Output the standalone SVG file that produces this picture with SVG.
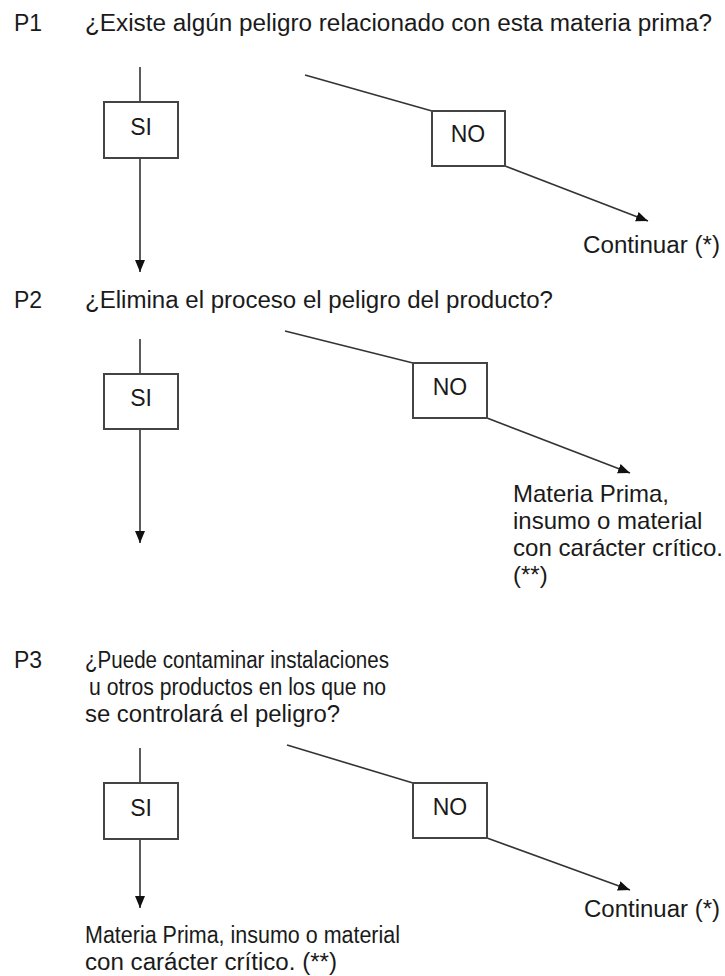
<svg xmlns="http://www.w3.org/2000/svg" width="725" height="976" viewBox="0 0 725 976">
<defs>
<style>
text{font-family:"Liberation Sans",Arial,sans-serif;font-size:23px;fill:#1a1a1a}
.c{text-anchor:middle}
.l{font-size:24px}
.box{fill:#fff;stroke:#444;stroke-width:2}
.ln{stroke:#333;stroke-width:1.6;fill:none}
</style>
<marker id="ah" markerUnits="userSpaceOnUse" markerWidth="14" markerHeight="12" refX="12" refY="5" orient="auto">
<path d="M0,0 L12,5 L0,10 Z" fill="#111"/>
</marker>
</defs>
<rect width="725" height="976" fill="#fff"/>
<g id="questions">
<text x="14" y="31">P1</text>
<text x="85" y="31" textLength="627" lengthAdjust="spacingAndGlyphs">¿Existe algún peligro relacionado  con esta materia prima?</text>
<text x="14" y="308">P2</text>
<text x="85" y="308" textLength="468" lengthAdjust="spacingAndGlyphs">¿Elimina el proceso el peligro del producto?</text>
<text x="14" y="668">P3</text>
<text x="85" y="668" textLength="304" lengthAdjust="spacingAndGlyphs">¿Puede contaminar instalaciones</text>
<text x="89" y="695" textLength="297" lengthAdjust="spacingAndGlyphs">u otros productos en los que no</text>
<text x="85" y="722" textLength="255" lengthAdjust="spacingAndGlyphs">se controlará el peligro?</text>
</g>
<g id="connectors">
<line class="ln" x1="140" y1="67" x2="140" y2="102"/>
<line class="ln" x1="140" y1="158" x2="140" y2="272" marker-end="url(#ah)"/>
<line class="ln" x1="305" y1="75" x2="432" y2="111"/>
<line class="ln" x1="505" y1="166" x2="648" y2="221" marker-end="url(#ah)"/>
<line class="ln" x1="140" y1="339" x2="140" y2="374"/>
<line class="ln" x1="140" y1="429" x2="140" y2="543" marker-end="url(#ah)"/>
<line class="ln" x1="285" y1="331" x2="413" y2="363"/>
<line class="ln" x1="487" y1="418" x2="630" y2="473" marker-end="url(#ah)"/>
<line class="ln" x1="140" y1="748" x2="140" y2="783"/>
<line class="ln" x1="140" y1="839" x2="140" y2="908" marker-end="url(#ah)"/>
<line class="ln" x1="287" y1="745" x2="413" y2="783"/>
<line class="ln" x1="487" y1="838" x2="630" y2="890" marker-end="url(#ah)"/>
</g>
<g id="si1"><rect class="box" x="104" y="102" width="74" height="56"/><text class="c" x="141" y="135">SI</text></g>
<g id="no1"><rect class="box" x="432" y="111" width="73" height="55"/><text class="c" x="468" y="142">NO</text></g>
<g id="end1"><text x="583" y="253" textLength="137" lengthAdjust="spacingAndGlyphs">Continuar (*)</text></g>
<g id="si2"><rect class="box" x="104" y="374" width="74" height="55"/><text class="c" x="141" y="406">SI</text></g>
<g id="no2"><rect class="box" x="413" y="363" width="74" height="55"/><text class="c" x="450" y="395">NO</text></g>
<g id="end2">
<text class="l" x="513" y="502">Materia Prima,</text>
<text class="l" x="513" y="529">insumo o material</text>
<text class="l" x="513" y="556" textLength="210" lengthAdjust="spacingAndGlyphs">con carácter crítico.</text>
<text class="l" x="513" y="583">(**)</text>
</g>
<g id="si3"><rect class="box" x="104" y="783" width="74" height="56"/><text class="c" x="141" y="816">SI</text></g>
<g id="no3"><rect class="box" x="413" y="783" width="74" height="55"/><text class="c" x="450" y="815">NO</text></g>
<g id="end3"><text x="584" y="917" textLength="136" lengthAdjust="spacingAndGlyphs">Continuar (*)</text></g>
<g id="end4">
<text x="85" y="943" textLength="315" lengthAdjust="spacingAndGlyphs">Materia Prima, insumo o material</text>
<text x="85" y="970" textLength="252" lengthAdjust="spacingAndGlyphs">con carácter crítico. (**)</text>
</g>
</svg>
